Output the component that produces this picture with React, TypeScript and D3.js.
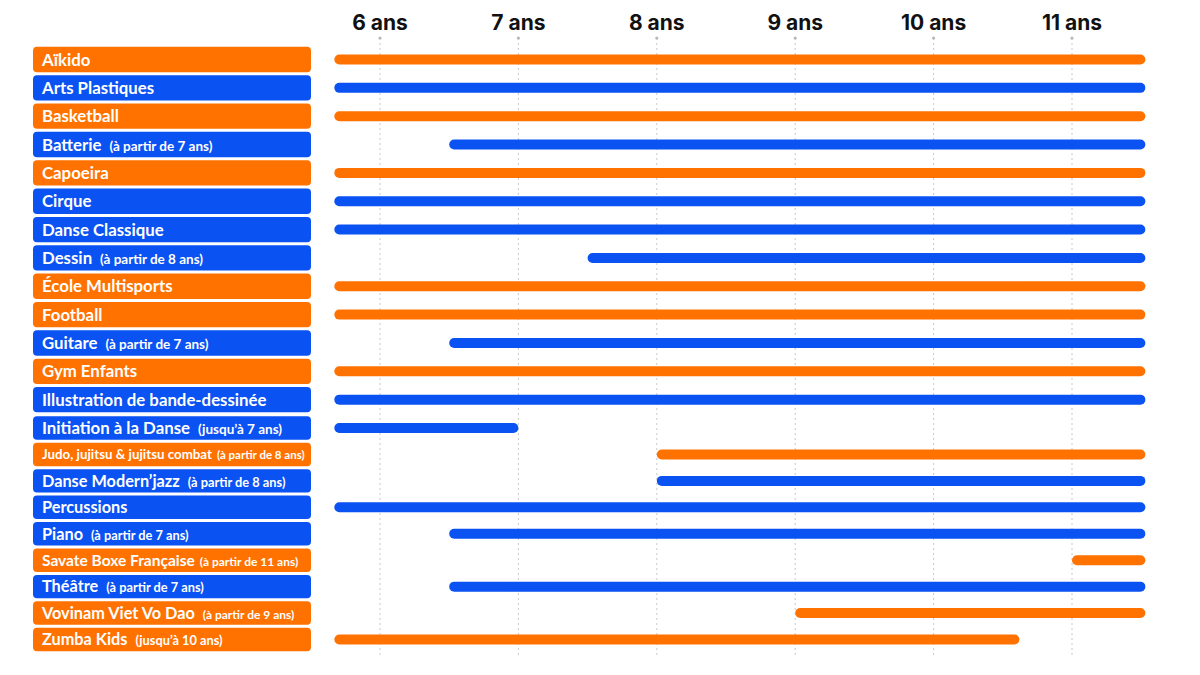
import * as d3 from 'd3';
import { useEffect } from 'react';

const width = 1200;
const height = 675;

// activities, top to bottom
const activities = [
  'Aïkido',
  'Arts Plastiques',
  'Basketball',
  'Batterie',
  'Capoeira',
  'Cirque',
  'Danse Classique',
  'Dessin',
  'École Multisports',
  'Football',
  'Guitare',
  'Gym Enfants',
  'Illustration de bande-dessinée',
  'Initiation à la Danse',
  'Judo, jujitsu & jujitsu combat',
  'Danse Modern’jazz',
  'Percussions',
  'Piano',
  'Savate Boxe Française',
  'Théâtre',
  'Vovinam Viet Vo Dao',
  'Zumba Kids',
];
const notes = [
  '',
  '',
  '',
  '(à partir de 7 ans)',
  '',
  '',
  '',
  '(à partir de 8 ans)',
  '',
  '',
  '(à partir de 7 ans)',
  '',
  '',
  '(jusqu’à 7 ans)',
  '(à partir de 8 ans)',
  '(à partir de 8 ans)',
  '',
  '(à partir de 7 ans)',
  '(à partir de 11 ans)',
  '(à partir de 7 ans)',
  '(à partir de 9 ans)',
  '(jusqu’à 10 ans)',
];
const kinds = [
  'sport', 'culture', 'sport', 'culture', 'sport', 'culture', 'culture',
  'culture', 'sport', 'sport', 'culture', 'sport', 'culture', 'culture',
  'sport', 'culture', 'culture', 'culture', 'sport', 'culture', 'sport', 'sport',
];
// age range of each bar (years)
const startAges = [
  5.67, 5.67, 5.67, 6.5, 5.67, 5.67, 5.67, 7.5, 5.67, 5.67, 6.5,
  5.67, 5.67, 5.67, 8, 8, 5.67, 6.5, 11, 6.5, 9, 5.67,
];
const endAges = [
  11.53, 11.53, 11.53, 11.53, 11.53, 11.53, 11.53, 11.53, 11.53, 11.53, 11.53,
  11.53, 11.53, 7, 11.53, 11.53, 11.53, 11.53, 11.53, 11.53, 11.53, 10.62,
];
const ageTicks = [6, 7, 8, 9, 10, 11];

const colors: Record<string, string> = { sport: '#ff7200', culture: '#0a52f2' };
// long labels are set in a smaller size to fit their box
const labelSizes: Record<string, [number, number]> = {
  'Judo, jujitsu & jujitsu combat': [13.3, 11.5],
  'Savate Boxe Française': [15.5, 12],
  'Vovinam Viet Vo Dao': [16.3, 12],
};

export default function App() {
  useEffect(() => {
    document.body.style.margin = '0';
  }, []);

  const x = d3.scaleLinear([6, 11], [380, 1072]);
  // rows are slightly tighter in the lower part of the list
  const y = d3.scaleLinear([0, 13, activities.length - 1], [59.5, 428, 639.5]);
  const pitch = (i: number) =>
    i < activities.length - 1 ? y(i + 1) - y(i) : y(i) - y(i - 1);

  const labelX0 = 33;
  const labelX1 = 311;
  const barH = 10;

  return (
    <svg width={width} height={height} style={{ display: 'block', background: '#fff' }}>
      <g>
        {ageTicks.map((t) => (
          <g key={t}>
            <line
              x1={x(t)}
              x2={x(t)}
              y1={38}
              y2={655}
              stroke="#c9c9c9"
              strokeWidth={1}
              strokeDasharray="2,3"
            />
            <circle cx={x(t)} cy={38} r={1.6} fill="#b8b8b8" />
            <text
              x={x(t)}
              y={30}
              textAnchor="middle"
              fontFamily="Inter, 'Open Sans', sans-serif"
              fontWeight={700}
              fontSize={21}
              fill="#111"
            >
              {t} ans
            </text>
          </g>
        ))}
      </g>

      <g>
        {activities.map((name, i) => {
          const cy = y(i);
          const h = pitch(i) - 3;
          const tight = i > 13;
          const [mainSize, noteSize] =
            labelSizes[name] ?? (tight ? [16.3, 12.8] : [16.8, 13.5]);
          return (
            <g key={name}>
              <rect
                x={labelX0}
                y={cy - h / 2}
                width={labelX1 - labelX0}
                height={h}
                rx={4}
                fill={colors[kinds[i]]}
              />
              <text
                x={42}
                y={cy + mainSize * 0.36}
                fill="#fff"
                fontFamily="Lato, 'Open Sans', sans-serif"
                fontWeight={700}
                fontSize={mainSize}
              >
                {name}
                {notes[i] && (
                  <tspan dx={mainSize < 16 ? 5 : 8} fontSize={noteSize}>
                    {notes[i]}
                  </tspan>
                )}
              </text>
              <rect
                x={x(startAges[i])}
                y={cy - barH / 2}
                width={x(endAges[i]) - x(startAges[i])}
                height={barH}
                rx={barH / 2}
                fill={colors[kinds[i]]}
              />
            </g>
          );
        })}
      </g>
    </svg>
  );
}
